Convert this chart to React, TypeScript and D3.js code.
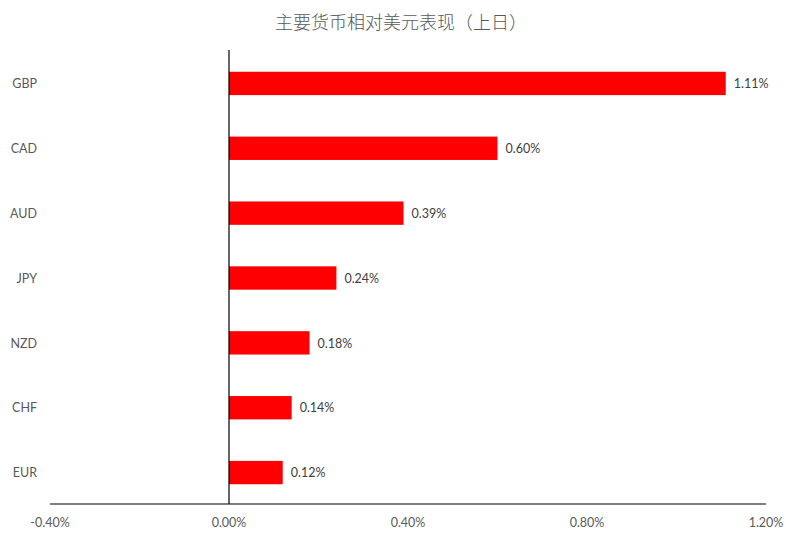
import React from "react";
import * as d3 from "d3";

const categories = ["GBP", "CAD", "AUD", "JPY", "NZD", "CHF", "EUR"];
const values = [1.11, 0.6, 0.39, 0.24, 0.18, 0.14, 0.12];
const xTicks = [-0.4, 0, 0.4, 0.8, 1.2];
const title = "主要货币相对美元表现（上日）";

export default function App() {
  const W = 799, H = 540;
  const x = d3.scaleLinear().domain([-0.4, 1.2]).range([50, 766]);
  const y = d3.scaleBand().domain(categories).range([51, 505]).paddingInner(0.64).paddingOuter(0.32);
  const font = "Lato, 'Open Sans', sans-serif";
  return (
    <svg width={W} height={H} style={{ position: "absolute", left: 0, top: 0, background: "#fff" }}>
      <text x={401} y={29} textAnchor="middle" fontSize={18} fill="#595959"
        fontFamily="'Noto Sans CJK SC', sans-serif" fontWeight={300}>{title}</text>
      {categories.map((c, i) => (
        <g key={c}>
          <rect x={x(0)} y={y(c)!} width={x(values[i]) - x(0)} height={y.bandwidth()} fill="#FF0000" />
          <text x={x(values[i]) + 8} y={y(c)! + y.bandwidth() / 2} dy="0.38em" fontSize={12.5}
            fill="#404040" fontFamily={font}>{values[i].toFixed(2) + "%"}</text>
          <text x={37} y={y(c)! + y.bandwidth() / 2} dy="0.38em" textAnchor="end" fontSize={12.5}
            fill="#595959" fontFamily={font}>{c}</text>
        </g>
      ))}
      <line x1={x(0)} x2={x(0)} y1={50} y2={504} stroke="#000" strokeWidth={1.2} />
      <line x1={50} x2={766} y1={504} y2={504} stroke="#000" strokeWidth={1.2} />
      {xTicks.map((t) => (
        <text key={t} x={x(t)} y={527} textAnchor="middle" fontSize={12.5} fill="#595959" fontFamily={font}>
          {t.toFixed(2) + "%"}
        </text>
      ))}
    </svg>
  );
}
